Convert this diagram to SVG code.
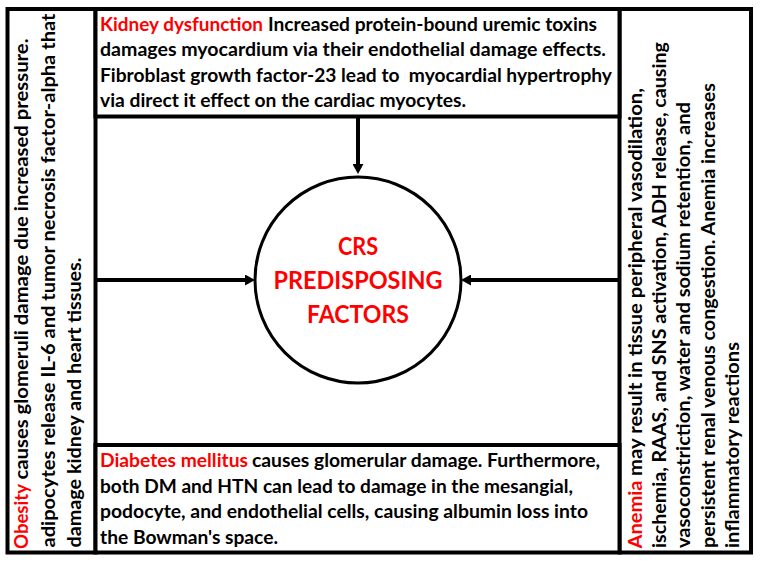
<svg xmlns="http://www.w3.org/2000/svg" width="765" height="563" viewBox="0 0 765 563">
<style>
.box{fill:#fff;stroke:#000;stroke-width:4}
.t{font-family:Lato,"Liberation Sans",sans-serif;font-weight:bold;font-size:19.5px;fill:#000}
.s{font-size:19.5px}
.r{fill:#ff0000}
.c{font-family:Lato,"Liberation Sans",sans-serif;font-weight:bold;font-size:25px;fill:#ff0000;text-anchor:middle}
.conn{stroke:#000;stroke-width:4;fill:none;marker-end:url(#ah)}
</style>
<defs>
<marker id="ah" viewBox="0 0 10 11" refX="0" refY="5.5" markerWidth="10" markerHeight="11" markerUnits="userSpaceOnUse" orient="auto">
<path d="M0,0 L10,5.5 L0,11 Z" fill="#000"/>
</marker>
</defs>
<rect width="765" height="563" fill="#fff"/>
<g id="node-obesity">
<rect class="box" x="7.5" y="9" width="88" height="543.5"/>
<text class="t s r" transform="translate(28,549) rotate(-90)" textLength="65" lengthAdjust="spacingAndGlyphs">Obesity</text>
<text class="t s" transform="translate(28,479.5) rotate(-90)" textLength="441" lengthAdjust="spacingAndGlyphs">causes glomeruli damage due increased pressure.</text>
<text class="t s" transform="translate(54.5,547.5) rotate(-90)" textLength="534" lengthAdjust="spacingAndGlyphs">adipocytes release IL-6 and tumor necrosis factor-alpha that</text>
<text class="t s" transform="translate(81,547.5) rotate(-90)" textLength="290" lengthAdjust="spacingAndGlyphs">damage kidney and heart tissues.</text>
</g>
<g id="node-anemia">
<rect class="box" x="619.5" y="9" width="131.5" height="543.5"/>
<text class="t s r" transform="translate(641.5,548.5) rotate(-90)" textLength="68" lengthAdjust="spacingAndGlyphs">Anemia</text>
<text class="t s" transform="translate(641.5,476) rotate(-90)" textLength="388" lengthAdjust="spacingAndGlyphs">may result in tissue peripheral vasodilation,</text>
<text class="t s" transform="translate(665.5,548) rotate(-90)" textLength="506" lengthAdjust="spacingAndGlyphs">ischemia, RAAS, and SNS activation, ADH release, causing</text>
<text class="t s" transform="translate(690,548) rotate(-90)" textLength="446" lengthAdjust="spacingAndGlyphs">vasoconstriction, water and sodium retention, and</text>
<text class="t s" transform="translate(714.5,548) rotate(-90)" textLength="465" lengthAdjust="spacingAndGlyphs">persistent renal venous congestion. Anemia increases</text>
<text class="t s" transform="translate(739,548) rotate(-90)" textLength="206" lengthAdjust="spacingAndGlyphs">inflammatory reactions</text>
</g>
<g id="node-kidney">
<rect class="box" x="95.5" y="9" width="524" height="107.5"/>
<text class="t r" x="100" y="30.5" textLength="163" lengthAdjust="spacingAndGlyphs">Kidney dysfunction</text>
<text class="t" x="268" y="30.5" textLength="329" lengthAdjust="spacingAndGlyphs">Increased protein-bound uremic toxins</text>
<text class="t" x="100" y="56" textLength="506" lengthAdjust="spacingAndGlyphs">damages myocardium via their endothelial damage effects.</text>
<text class="t" x="100" y="81.5" textLength="512" lengthAdjust="spacingAndGlyphs" xml:space="preserve">Fibroblast growth factor-23 lead to  myocardial hypertrophy</text>
<text class="t" x="100" y="107" textLength="366" lengthAdjust="spacingAndGlyphs">via direct it effect on the cardiac myocytes.</text>
</g>
<g id="node-diabetes">
<rect class="box" x="95.5" y="445" width="524" height="107.5"/>
<text class="t r" x="100" y="467" textLength="148" lengthAdjust="spacingAndGlyphs">Diabetes mellitus</text>
<text class="t" x="252" y="467" textLength="348" lengthAdjust="spacingAndGlyphs">causes glomerular damage. Furthermore,</text>
<text class="t" x="100" y="492.5" textLength="473" lengthAdjust="spacingAndGlyphs">both DM and HTN can lead to damage in the mesangial,</text>
<text class="t" x="100" y="518" textLength="488" lengthAdjust="spacingAndGlyphs">podocyte, and endothelial cells, causing albumin loss into</text>
<text class="t" x="100" y="543.5" textLength="178" lengthAdjust="spacingAndGlyphs">the Bowman's space.</text>
</g>
<g id="connectors">
<line class="conn" x1="358" y1="118" x2="358" y2="164"/>
<line class="conn" x1="97" y1="280" x2="245" y2="280"/>
<line class="conn" x1="618" y1="280" x2="471" y2="280"/>
</g>
<g id="node-crs">
<circle cx="358" cy="280" r="103" fill="#fff" stroke="#000" stroke-width="3"/>
<text class="c" x="358" y="255" textLength="40" lengthAdjust="spacingAndGlyphs">CRS</text>
<text class="c" x="358" y="289.3" textLength="169" lengthAdjust="spacingAndGlyphs">PREDISPOSING</text>
<text class="c" x="358" y="323.3" textLength="102" lengthAdjust="spacingAndGlyphs">FACTORS</text>
</g>
</svg>
